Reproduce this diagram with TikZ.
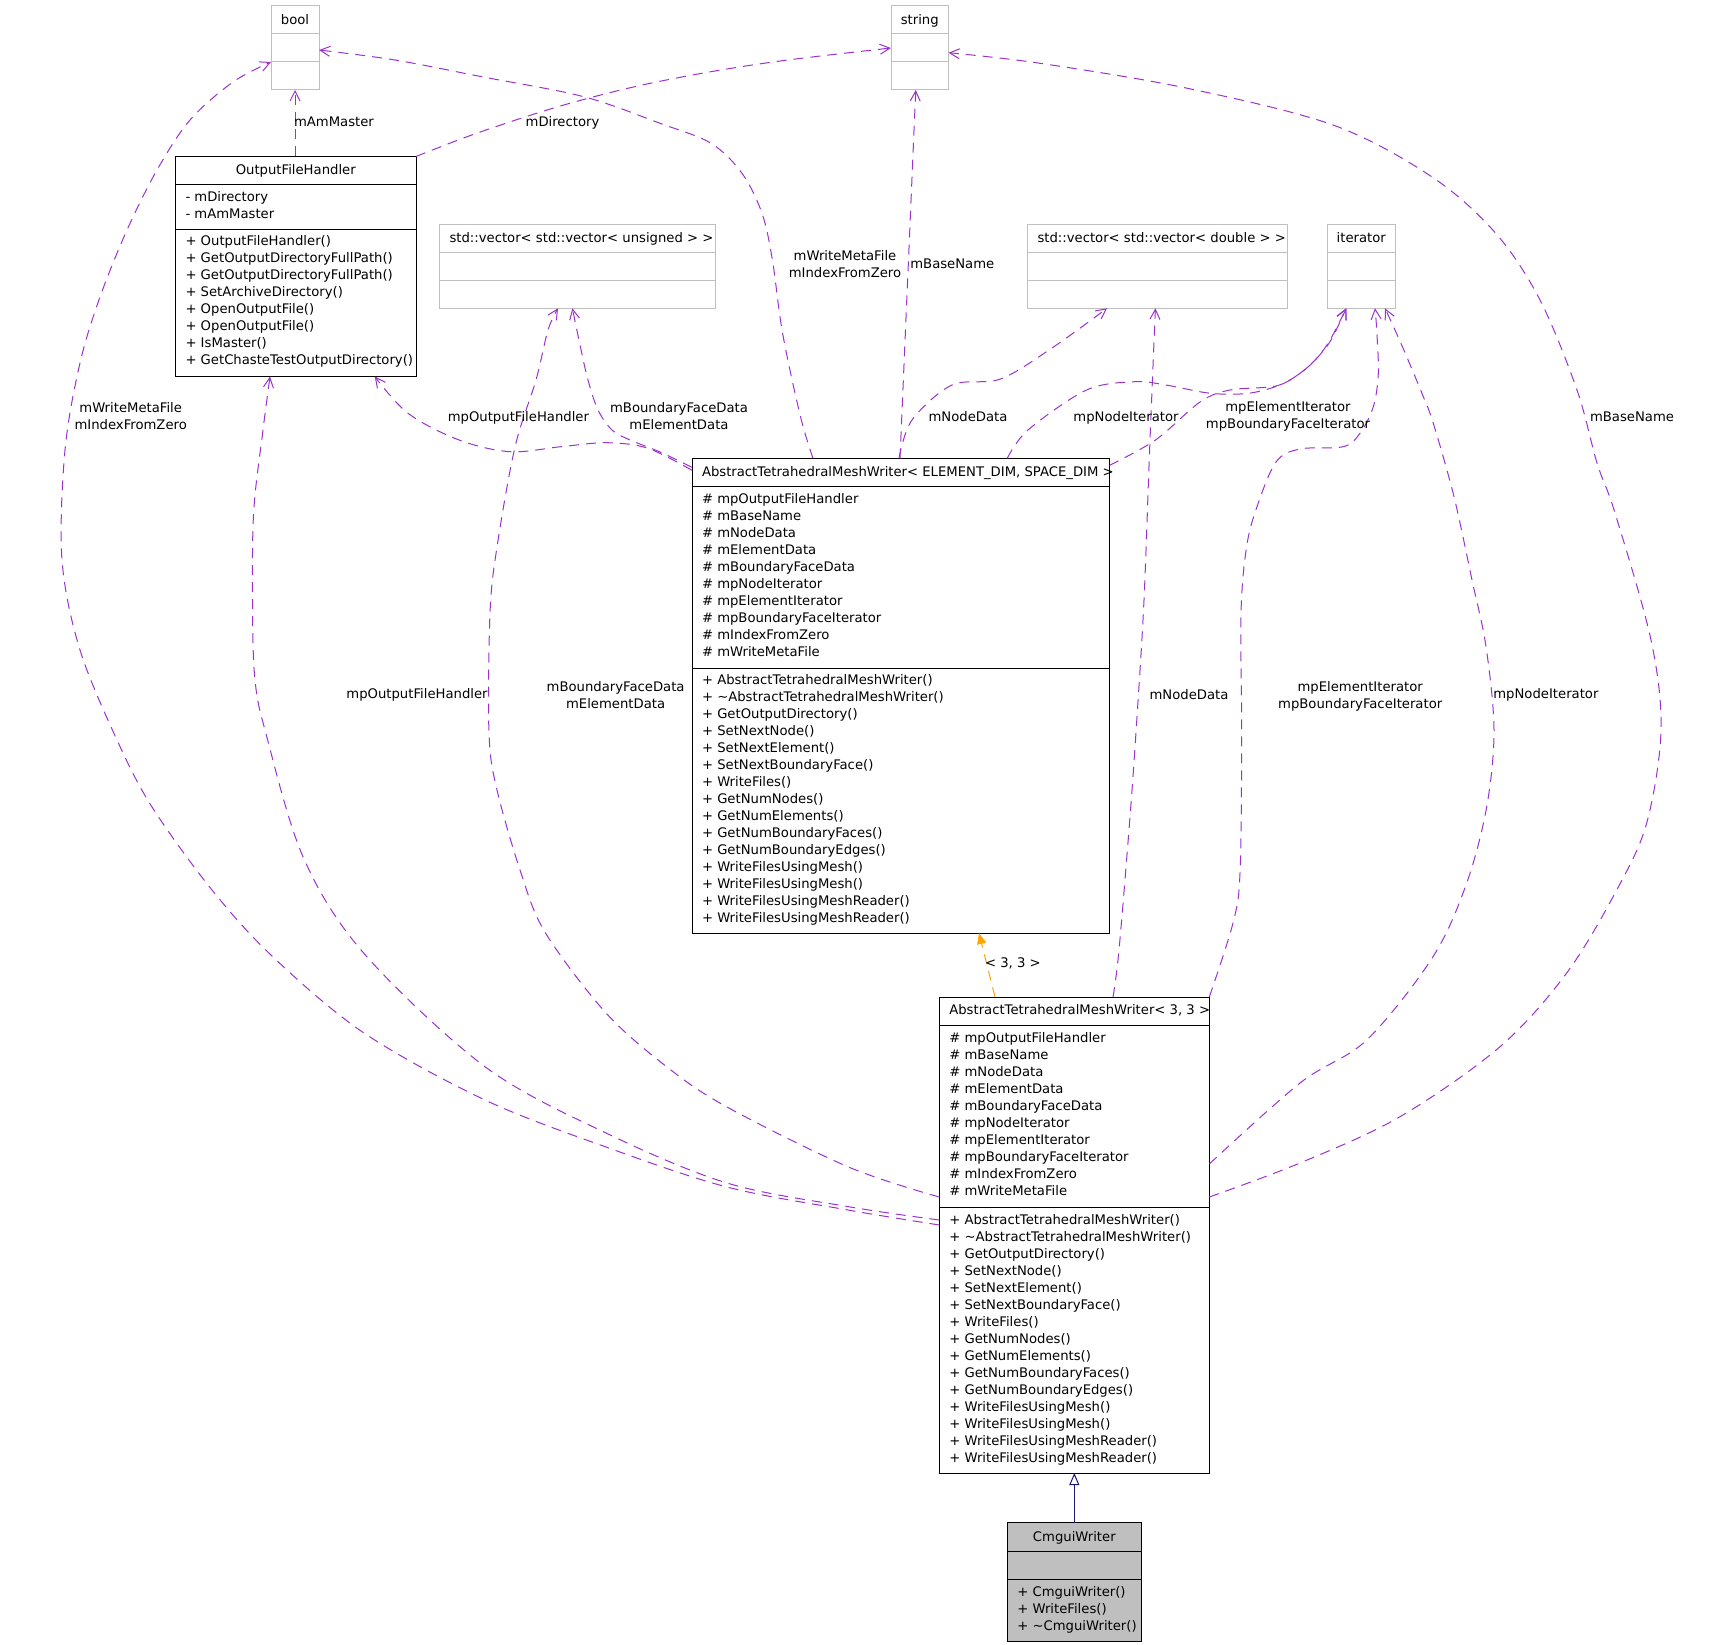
\documentclass[tikz,border=0pt]{standalone}
\usepackage{fontspec}
\setmainfont{DejaVu Sans}
\usetikzlibrary{arrows.meta,calc}
\definecolor{edgepurple}{HTML}{9A32CD}
\definecolor{boxgray}{HTML}{BFBFBF}
\definecolor{inhblue}{HTML}{191970}
\definecolor{tmplorange}{HTML}{FFA500}
\begin{document}
\begin{tikzpicture}[x=1pt,y=-1pt,
  every node/.style={font=\fontsize{13.2}{17}\selectfont, inner sep=0pt, outer sep=0pt},
  classbox/.style={draw=black, line width=1pt},
  typebox/.style={draw=boxgray, line width=1pt},
  sepblack/.style={draw=black, line width=1pt},
  sepgray/.style={draw=boxgray, line width=1pt},
  member/.style={draw=edgepurple, line width=1pt, dash pattern=on 10pt off 7pt,
    -{Straight Barb[length=10pt,width=10pt]}},
  tmpl/.style={draw=tmplorange, line width=1pt, dash pattern=on 10pt off 7pt,
    -{Triangle[length=11pt,width=9pt]}},
  inherit/.style={draw=inhblue, line width=1pt,
    -{Triangle[open,length=12pt,width=10pt,fill=white]}},
  lbl/.style={anchor=base, align=center},
  rows/.style={anchor=base west, align=left},
  ttl/.style={anchor=base}
]
\useasboundingbox (0,0) rectangle (1711,1645);

% ---------- boxes ----------
\node[typebox, minimum width=48, minimum height=84] (bool) at (295,48) {};
\draw[sepgray] (271,34) -- (319,34) (271,62) -- (319,62);
\node[ttl] (bool-t) at (295,25) {bool};

\node[typebox, minimum width=57.5, minimum height=84] (string) at (919.75,48) {};
\draw[sepgray] (891,34) -- (948.5,34) (891,62) -- (948.5,62);
\node[ttl] (string-t) at (919.75,25) {string};

\node[classbox, minimum width=240.5, minimum height=220] (ofh) at (295.75,266.5) {};
\draw[sepblack] (175.5,184.5) -- (416,184.5) (175.5,229.5) -- (416,229.5);
\node[ttl] (ofh-t) at (295.75,174.3) {OutputFileHandler};
\node[rows] (ofh-a) at (185.5,218.3) {- mDirectory\\- mAmMaster};
\node[rows] (ofh-m) at (185.5,364.5) {+ OutputFileHandler()\\+ GetOutputDirectoryFullPath()\\+ GetOutputDirectoryFullPath()\\+ SetArchiveDirectory()\\+ OpenOutputFile()\\+ OpenOutputFile()\\+ IsMaster()\\+ GetChasteTestOutputDirectory()};

\node[typebox, minimum width=276, minimum height=84] (vecU) at (577,266.3) {};
\draw[sepgray] (439,252.3) -- (715,252.3) (439,280.3) -- (715,280.3);
\node[anchor=base west] (vecU-t) at (449.5,242.2) {std::vector< std::vector< unsigned > >};

\node[typebox, minimum width=260, minimum height=84] (vecD) at (1157.4,266.3) {};
\draw[sepgray] (1027.4,252.3) -- (1287.4,252.3) (1027.4,280.3) -- (1287.4,280.3);
\node[anchor=base west] (vecD-t) at (1037.5,242.2) {std::vector< std::vector< double > >};

\node[typebox, minimum width=68, minimum height=84] (iter) at (1361.25,266.3) {};
\draw[sepgray] (1327.3,252.3) -- (1395.2,252.3) (1327.3,280.3) -- (1395.2,280.3);
\node[ttl] (iter-t) at (1361.25,242.2) {iterator};

\node[classbox, minimum width=417.5, minimum height=474.7] (absE) at (900.75,695.65) {};
\draw[sepblack] (692,486.3) -- (1109.5,486.3) (692,668.3) -- (1109.5,668.3);
\node[anchor=base west] (absE-t) at (702,476.8) {AbstractTetrahedralMeshWriter< ELEMENT\_DIM, SPACE\_DIM >};
\node[rows] (absE-a) at (702,656.8) {\# mpOutputFileHandler\\\# mBaseName\\\# mNodeData\\\# mElementData\\\# mBoundaryFaceData\\\# mpNodeIterator\\\# mpElementIterator\\\# mpBoundaryFaceIterator\\\# mIndexFromZero\\\# mWriteMetaFile};
\node[rows] (absE-m) at (702,922.5) {+ AbstractTetrahedralMeshWriter()\\+ \textasciitilde AbstractTetrahedralMeshWriter()\\+ GetOutputDirectory()\\+ SetNextNode()\\+ SetNextElement()\\+ SetNextBoundaryFace()\\+ WriteFiles()\\+ GetNumNodes()\\+ GetNumElements()\\+ GetNumBoundaryFaces()\\+ GetNumBoundaryEdges()\\+ WriteFilesUsingMesh()\\+ WriteFilesUsingMesh()\\+ WriteFilesUsingMeshReader()\\+ WriteFilesUsingMeshReader()};

\node[classbox, minimum width=270, minimum height=476] (abs33) at (1074.3,1235) {};
\draw[sepblack] (939.3,1025) -- (1209.3,1025) (939.3,1207) -- (1209.3,1207);
\node[anchor=base west] (abs33-t) at (949.3,1014.5) {AbstractTetrahedralMeshWriter< 3, 3 >};
\node[rows] (abs33-a) at (949.3,1195.9) {\# mpOutputFileHandler\\\# mBaseName\\\# mNodeData\\\# mElementData\\\# mBoundaryFaceData\\\# mpNodeIterator\\\# mpElementIterator\\\# mpBoundaryFaceIterator\\\# mIndexFromZero\\\# mWriteMetaFile};
\node[rows] (abs33-m) at (949.3,1462) {+ AbstractTetrahedralMeshWriter()\\+ \textasciitilde AbstractTetrahedralMeshWriter()\\+ GetOutputDirectory()\\+ SetNextNode()\\+ SetNextElement()\\+ SetNextBoundaryFace()\\+ WriteFiles()\\+ GetNumNodes()\\+ GetNumElements()\\+ GetNumBoundaryFaces()\\+ GetNumBoundaryEdges()\\+ WriteFilesUsingMesh()\\+ WriteFilesUsingMesh()\\+ WriteFilesUsingMeshReader()\\+ WriteFilesUsingMeshReader()};

\node[classbox, fill=boxgray, minimum width=134, minimum height=118.5] (cmgui) at (1074.3,1581.75) {};
\draw[sepblack] (1007.3,1551.5) -- (1141.3,1551.5) (1007.3,1579.5) -- (1141.3,1579.5);
\node[ttl] (cmgui-t) at (1074.3,1541.5) {CmguiWriter};
\node[rows] (cmgui-m) at (1017.3,1630.5) {+ CmguiWriter()\\+ WriteFiles()\\+ \textasciitilde CmguiWriter()};

% ---------- connector end points ----------
\coordinate (e3s) at ($(absE.north)+(-87.75,0)$);
\coordinate (e3t) at ($(bool.east)+(0,2)$);
\coordinate (e4s) at ($(absE.north)+(-0.75,0)$);
\coordinate (e4t) at ($(string.south)+(-4,0)$);
\coordinate (e5s) at ($(absE.north west)+(0,12)$);
\coordinate (e5t) at ($(ofh.south)+(79,0)$);
\coordinate (e6s) at ($(absE.north west)+(0,9)$);
\coordinate (e6t) at ($(vecU.south)+(-4.6,0)$);
\coordinate (e7s) at ($(absE.north)+(-1.75,0)$);
\coordinate (e7t) at ($(vecD.south)+(-50.4,0)$);
\coordinate (e8s) at ($(absE.north)+(106.5,0)$);
\coordinate (e8t) at ($(iter.south)+(-15,0)$);
\coordinate (e9s) at ($(absE.north east)+(0,7)$);
\coordinate (e10s) at ($(abs33.west)+(0,-10)$);
\coordinate (e10t) at ($(bool.west)+(0,14)$);
\coordinate (e11s) at ($(abs33.west)+(0,-15)$);
\coordinate (e11t) at ($(ofh.south)+(-25.75,0)$);
\coordinate (e12s) at ($(abs33.west)+(0,-38)$);
\coordinate (e12t) at ($(vecU.south)+(-19,0)$);
\coordinate (e13s) at ($(abs33.north)+(38.7,0)$);
\coordinate (e13t) at ($(vecD.south)+(-2,0)$);
\coordinate (e14t) at ($(iter.south)+(13.75,0)$);
\coordinate (e15s) at ($(abs33.east)+(0,-71)$);
\coordinate (e15t) at ($(iter.south)+(23.75,0)$);
\coordinate (e16s) at ($(abs33.east)+(0,-38)$);
\coordinate (e16t) at ($(string.east)+(0,4.7)$);
\coordinate (eos) at ($(abs33.north)+(-79.3,0)$);
\coordinate (eot) at ($(absE.south)+(78.25,0)$);

% ---------- connectors ----------
\draw[member] (bool.south |- ofh.north) -- (bool.south);
\draw[member] plot[smooth, tension=0.55] coordinates {(ofh.north east) (476.5,133.3) (558,106.7) (634.7,86.7) (711,71.7) (787.8,60) (string.west)};
\draw[member] plot[smooth, tension=0.55] coordinates {(e3s) (800.5,416.7) (782.6,333.3) (772.4,260) (762,213.3) (742,173.3) (711,143.3) (660,123.3) (583.7,96.7) (481.6,76.7) (395,60) (e3t)};
\draw[member] (e4s) -- (e4t);
\draw[member] plot[smooth, tension=0.55] coordinates {(e5s) (648,448.3) (607,442.7) (561,446.7) (510,451.7) (459,440) (408,413.3) (e5t)};
\draw[member] plot[smooth, tension=0.55] coordinates {(e6s) (660,452) (630,440) (612,430) (598,410) (588,380) (580,345) (e6t)};
\draw[member] plot[smooth, tension=0.55] coordinates {(e7s) (912,420) (952,385) (1000.5,379) (1052,348) (e7t)};
\draw[member] plot[smooth, tension=0.55] coordinates {(e8s) (1028,430) (1086.6,390) (1134.8,381.7) (1165.8,385) (1210.6,393.3) (1248.5,393.3) (1280,385) (1300,373.3) (1316.7,358.3) (1330,340) (e8t)};
\draw[member] plot[smooth, tension=0.55] coordinates {(e9s) (1155.5,440) (1200,402) (1230,390) (1276,386) (1300,373.3) (1316.7,358.3) (1331,340) (e8t)};
\draw[member] plot[smooth, tension=0.55] coordinates {(e10s) (848,1210) (727,1187) (606,1147) (485,1100) (364,1033) (273,957) (212,890) (152,807) (117,740) (80,650) (62,560) (65,450) (80,363) (100,297) (127,230) (157,170) (190,120) (233,82) (e10t)};
\draw[member] plot[smooth, tension=0.55] coordinates {(e11s) (848.5,1206.7) (727,1183) (606,1133) (485,1066.7) (363.6,953) (303,856.7) (265,730) (255,680) (252.6,613) (253.6,513) (263,430) (e11t)};
\draw[member] plot[smooth, tension=0.55] coordinates {(e12s) (848.5,1167) (727,1107) (667,1067) (606,1013) (545.5,933) (521,873) (497,790) (489,733) (490,613) (497,547) (515,447) (536,380) (548,330) (e12t)};
\draw[member] plot[smooth, tension=0.55] coordinates {(e13s) (1119,950) (1130,816.7) (1137,716.7) (1144,600) (1149.6,450) (e13t)};
\draw[member] plot[smooth, tension=0.55] coordinates {(abs33.north east) (1233,923) (1240,873) (1241.7,740) (1241,613) (1246.6,546.7) (1257,506.7) (1276,462) (1300,449) (1343.3,446.7) (1360,433.3) (1373.3,406.7) (1378.3,373.3) (1376.7,330) (e14t)};
\draw[member] plot[smooth, tension=0.55] coordinates {(e15s) (1300,1083) (1366.7,1040) (1433,956.7) (1466.7,883) (1486.7,806.7) (1494,730) (1486,646.7) (1472,580) (1454,496.7) (1433.3,423.3) (1423.3,396.7) (1406.7,356.7) (1395,330) (e15t)};
\draw[member] plot[smooth, tension=0.55] coordinates {(e16s) (1300,1163) (1400,1116.7) (1500,1046.7) (1566.7,973) (1616.7,890) (1646.7,823) (1661,730) (1651,640) (1615,513) (1597,463) (1577,390) (1540,300) (1495.5,233) (1431.6,176.7) (1333,125) (1186,88) (1038,63) (e16t)};
\draw[tmpl] (eos) -- (eot);
\draw[inherit] (cmgui.north) -- (abs33.south);

% ---------- labels ----------
\node[lbl] (l1) at (334,126.2) {mAmMaster};
\node[lbl] (l2) at (562.5,126.2) {mDirectory};
\node[lbl] (l3) at (845,277.2) {mWriteMetaFile\\mIndexFromZero};
\node[lbl] (l4) at (952.3,268.8) {mBaseName};
\node[lbl] (l5) at (518.4,421.2) {mpOutputFileHandler};
\node[lbl] (l6) at (679,429.2) {mBoundaryFaceData\\mElementData};
\node[lbl] (l7) at (968,421.2) {mNodeData};
\node[lbl] (l8) at (1126,421.2) {mpNodeIterator};
\node[lbl] (l9) at (1288,428.8) {mpElementIterator\\mpBoundaryFaceIterator};
\node[lbl] (l10) at (130.7,429.2) {mWriteMetaFile\\mIndexFromZero};
\node[lbl] (l11) at (417,698.8) {mpOutputFileHandler};
\node[lbl] (l12) at (615.6,708.2) {mBoundaryFaceData\\mElementData};
\node[lbl] (l13) at (1189,699.5) {mNodeData};
\node[lbl] (l14) at (1360.2,708.2) {mpElementIterator\\mpBoundaryFaceIterator};
\node[lbl] (l15) at (1545.9,698.8) {mpNodeIterator};
\node[lbl] (l16) at (1632,421.2) {mBaseName};
\node[anchor=base west] (l17) at (985,967.5) {< 3, 3 >};
\end{tikzpicture}
\end{document}
